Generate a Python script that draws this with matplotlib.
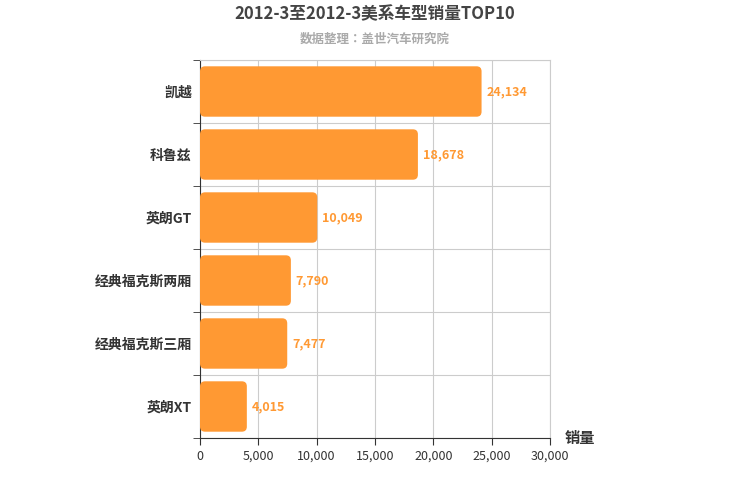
import matplotlib
matplotlib.use("Agg")
import matplotlib.pyplot as plt
from matplotlib.patches import FancyBboxPatch
from matplotlib import font_manager as fm

cjk_names = []
for f in fm.findSystemFonts():
    if "CJK" in f or "cjk" in f.lower():
        try:
            fm.fontManager.addfont(f)
            cjk_names.append(fm.FontProperties(fname=f).get_name())
        except Exception:
            pass
families = ["Noto Sans CJK SC", "Noto Sans CJK JP"] + cjk_names + ["DejaVu Sans"]
plt.rcParams["font.family"] = "sans-serif"
plt.rcParams["font.sans-serif"] = families

categories = ["凯越", "科鲁兹", "英朗GT", "经典福克斯两厢", "经典福克斯三厢", "英朗XT"]
values = [24134, 18678, 10049, 7790, 7477, 4015]
xticks = [0, 5000, 10000, 15000, 20000, 25000, 30000]

fig = plt.figure(figsize=(7.5, 5), dpi=100)
ax = fig.add_axes([200/750, 1-438/500, 350/750, 378/500])
n = len(categories)
ax.set_xlim(0, 30000)
ax.set_ylim(n, 0)
color = "#FF9933"
xpp = 30000/350
ypp = n/378
for i, (c, v) in enumerate(zip(categories, values)):
    y0 = i + 0.1
    p = FancyBboxPatch((0, y0), v, 0.8, boxstyle="round,pad=0,rounding_size=%f" % (5*xpp),
                       mutation_aspect=ypp/xpp, fc=color, ec="none", zorder=3)
    ax.add_patch(p)
    ax.text(v + 400, i + 0.5, f"{v:,}", color=color, va="center", ha="left", fontsize=9,
            fontweight="bold", zorder=4)

ax.set_yticks([i + 0.5 for i in range(n)])
ax.set_yticklabels(categories, fontsize=10, fontweight="bold", color="#333333")
ax.tick_params(axis="y", length=0, pad=6)
ax.set_yticks(range(n + 1), minor=True)
ax.tick_params(axis="y", which="minor", length=5, color="#333333", direction="out")
ax.set_xticks(xticks)
ax.set_xticklabels([f"{t:,}" for t in xticks], fontsize=9, color="#333333")
ax.tick_params(axis="x", length=5, color="#333333")
ax.grid(True, axis="x", color="#cccccc", lw=0.8, zorder=0)
ax.grid(True, axis="y", which="minor", color="#cccccc", lw=0.8, zorder=0)
for s in ["top", "right"]:
    ax.spines[s].set_color("#cccccc")
ax.spines["bottom"].set_color("#333333")
ax.spines["left"].set_color("#333333")

fig.text(0.5, 1-14/500, "2012-3至2012-3美系车型销量TOP10", ha="center", va="center",
         fontsize=12, fontweight="bold", color="#444444")
fig.text(0.5, 1-39/500, "数据整理：盖世汽车研究院", ha="center", va="center",
         fontsize=9, fontweight="bold", color="#aaaaaa")
fig.text(565/750, 1-438/500, "销量", ha="left", va="center", fontsize=11, fontweight="bold", color="#333333")

fig.savefig("out.png", dpi=100)
